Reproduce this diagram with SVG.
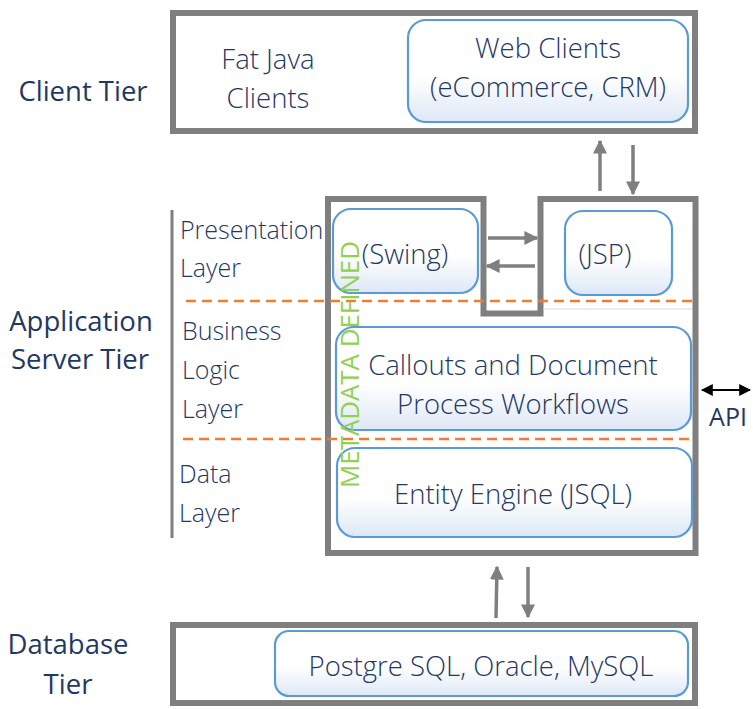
<svg xmlns="http://www.w3.org/2000/svg" width="753" height="709" viewBox="0 0 753 709">
<style>
.frame{fill:none;stroke:#7f7f7f;stroke-width:6}
.box{stroke:#5b9bd5;stroke-width:2.2;fill:url(#g)}
.t{font-family:"Open Sans","Noto Sans",sans-serif;font-size:27.5px;font-weight:300;fill:#1f3864;text-anchor:middle}
.l{font-family:"Open Sans","Noto Sans",sans-serif;font-size:25px;font-weight:300;fill:#1f3864}
.tier{font-family:"Open Sans","Noto Sans",sans-serif;font-size:27.5px;fill:#1f3864;text-anchor:middle}
.ar{stroke:#7f7f7f;stroke-width:3.5;fill:none;marker-end:url(#ah)}
.dash{stroke:#ed7d31;stroke-width:2.5;stroke-dasharray:10 6;fill:none}
</style>
<defs>
<linearGradient id="g" x1="0" y1="0" x2="0" y2="1">
<stop offset="0" stop-color="#ffffff"/>
<stop offset="0.55" stop-color="#ffffff"/>
<stop offset="1" stop-color="#dde8f5"/>
</linearGradient>
<marker id="ah" viewBox="0 0 10 10" refX="9" refY="5" markerWidth="4" markerHeight="4" orient="auto">
<path d="M0,0 L10,5 L0,10 z" fill="#7f7f7f"/>
</marker>
<marker id="bk" viewBox="0 0 10 10" refX="9" refY="5" markerWidth="6" markerHeight="6" orient="auto-start-reverse">
<path d="M0,0 L10,5 L0,10 z" fill="#000"/>
</marker>
</defs>
<rect width="753" height="709" fill="#fff"/>

<g id="tier-labels">
<text class="tier" x="83" y="101">Client Tier</text>
<text class="tier" x="81" y="331">Application</text>
<text class="tier" x="80" y="369">Server Tier</text>
<text class="tier" x="68" y="654">Database</text>
<text class="tier" x="68" y="694">Tier</text>
</g>

<g id="layer-labels">
<line x1="172" y1="210" x2="172" y2="538" stroke="#7f7f7f" stroke-width="3"/>
<text class="l" x="180" y="239">Presentation</text>
<text class="l" x="180" y="277">Layer</text>
<text class="l" x="182" y="340">Business</text>
<text class="l" x="182" y="379">Logic</text>
<text class="l" x="182" y="418">Layer</text>
<text class="l" x="179" y="483">Data</text>
<text class="l" x="179" y="522">Layer</text>
</g>

<g id="client-tier">
<rect class="frame" x="173" y="13" width="522" height="118"/>
<text class="t" x="268" y="69">Fat Java</text>
<text class="t" x="268" y="108">Clients</text>
</g>
<g id="web-clients">
<rect class="box" x="408" y="20" width="280" height="102" rx="18"/>
<text class="t" x="548" y="58">Web Clients</text>
<text class="t" x="548" y="97">(eCommerce, CRM)</text>
</g>

<g id="app-server">
<path class="frame" d="M328,199 H483.5 V313.5 H540.5 V199 H695.5 V553 H328 Z"/>
<line x1="543" y1="309" x2="692" y2="309" stroke="#d9d9d9" stroke-width="1"/>
</g>

<g id="dividers">
<line class="dash" x1="186" y1="301" x2="695" y2="301"/>
<line class="dash" x1="183" y1="439" x2="693" y2="439"/>
</g>

<g id="swing">
<rect class="box" x="333" y="209" width="145" height="84" rx="18"/>
<text class="t" x="405" y="264">(Swing)</text>
</g>
<g id="jsp">
<rect class="box" x="565" y="211" width="107" height="84" rx="18"/>
<text class="t" x="605" y="264">(JSP)</text>
</g>
<g id="callouts">
<rect class="box" x="336" y="327" width="355" height="103" rx="18"/>
<text class="t" x="513" y="375">Callouts and Document</text>
<text class="t" x="513" y="414">Process Workflows</text>
</g>
<g id="entity-engine">
<rect class="box" x="337" y="448" width="355" height="89" rx="18"/>
<text class="t" x="513" y="504">Entity Engine (JSQL)</text>
</g>
<g id="metadata">
<text x="0" y="0" transform="translate(359,488) rotate(-90)" font-family="Open Sans, Noto Sans, sans-serif" font-size="25.5" fill="#92d050" textLength="247" lengthAdjust="spacingAndGlyphs">METADATA DEFINED</text>
</g>

<g id="database-tier">
<rect class="frame" x="173" y="625" width="522" height="78"/>
</g>
<g id="database">
<rect class="box" x="275" y="631" width="413" height="65" rx="14"/>
<text class="t" x="481" y="676">Postgre SQL, Oracle, MySQL</text>
</g>

<g id="connectors">
<line class="ar" x1="600" y1="191" x2="600" y2="141"/>
<line class="ar" x1="633" y1="145" x2="633" y2="194"/>
<line class="ar" x1="488" y1="238" x2="537" y2="238"/>
<line class="ar" x1="535" y1="266" x2="487" y2="266"/>
<line class="ar" x1="496" y1="618" x2="497" y2="567"/>
<line class="ar" x1="528" y1="567" x2="528" y2="617"/>
<line x1="702" y1="390" x2="750" y2="390" stroke="#000" stroke-width="2" marker-start="url(#bk)" marker-end="url(#bk)"/>
<text x="728" y="426" font-family="Open Sans, Noto Sans, sans-serif" font-size="25" fill="#1f3864" text-anchor="middle">API</text>
</g>
</svg>
